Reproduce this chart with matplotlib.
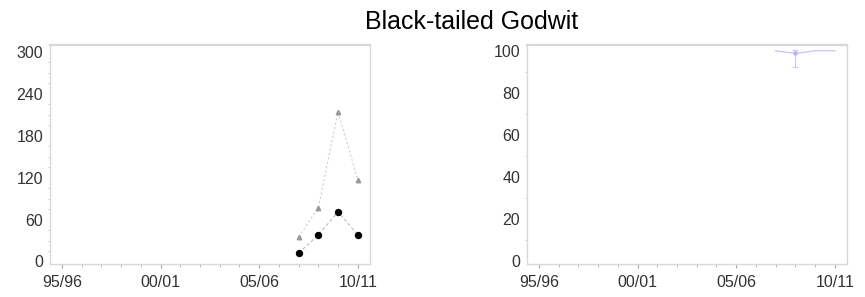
import matplotlib
matplotlib.use("Agg")
import matplotlib.pyplot as plt
from matplotlib.ticker import MultipleLocator
import numpy as np

plt.rcParams['font.family'] = ['Liberation Sans', 'DejaVu Sans']

title = "Black-tailed Godwit"
season_labels = ["95/96", "00/01", "05/06", "10/11"]
season_ticks = [0, 5, 10, 15]

# left panel: counts
left_x = [12, 13, 14, 15]
peak_counts = [35, 77, 214, 117]     # triangles
mean_counts = [12, 38, 71, 38]       # circles

# right panel: index
right_x = [12, 13, 14, 15]
right_vals = [100, 98.7, 100, 100]
err_x = [13]
err_val = [98.7]
err_low = [92.4]
err_high = [100.2]

W, H = 865, 297
fig = plt.figure(figsize=(W / 100, H / 100), dpi=100)

spine_col = '#d8d8d8'
tick_col = '#aaaaaa'
lab_col = '#333333'


def style(ax):
    for s in ax.spines.values():
        s.set_color(spine_col)
        s.set_linewidth(1.0)
    ax.spines['top'].set_linewidth(1.6)
    ax.set_xticks(season_ticks)
    ax.set_xticklabels(season_labels)
    ax.xaxis.set_minor_locator(MultipleLocator(1))
    ax.tick_params(axis='x', which='major', length=3, width=0.8, color=tick_col,
                   labelsize=11.5, labelcolor=lab_col, pad=5)
    ax.tick_params(axis='x', which='minor', length=2, width=0.6, color=tick_col)
    ax.tick_params(axis='y', which='major', length=0, labelsize=11.5,
                   labelcolor=lab_col, pad=5)
    ax.tick_params(axis='y', which='minor', length=1.5, width=0.6, color='#cccccc')
    ax.set_xlim(-0.61, 15.62)


ax1 = fig.add_axes([50 / W, (H - 264) / H, 320 / W, (264 - 45.5) / H])
style(ax1)
ax1.set_ylim(-3.6, 308.9)
ax1.set_yticks([0, 60, 120, 180, 240, 300])
ax1.yaxis.set_minor_locator(MultipleLocator(15))
ax1.plot(left_x, peak_counts, linestyle=(0, (2, 2)), color='#cfcfcf', lw=0.8,
         marker='^', markersize=3.2, markerfacecolor='#999999',
         markeredgecolor='#999999')
ax1.plot(left_x, mean_counts, linestyle=(0, (3, 2)), color='#bdbdbd', lw=0.8,
         marker='o', markersize=4.3, markerfacecolor='black',
         markeredgecolor='black')

ax2 = fig.add_axes([527 / W, (H - 264) / H, 320 / W, (264 - 45.5) / H])
style(ax2)
ax2.set_ylim(-1.57, 102.5)
ax2.set_yticks([0, 20, 40, 60, 80, 100])
ax2.yaxis.set_minor_locator(MultipleLocator(10))
ax2.plot(right_x, right_vals, color='#c4c4f6', lw=0.9)
yerr = [[v - lo for v, lo in zip(err_val, err_low)],
        [hi - v for v, hi in zip(err_val, err_high)]]
ax2.errorbar(err_x, err_val, yerr=yerr, fmt='o', markersize=2.2,
             color='#b4b4f0', ecolor='#c8c8f6', elinewidth=0.8, capsize=2,
             capthick=0.8)

fig.text(471.5 / W, (H - 29) / H, title, ha='center', va='baseline',
         fontsize=18, color='black')

fig.savefig("out.png", dpi=100)
